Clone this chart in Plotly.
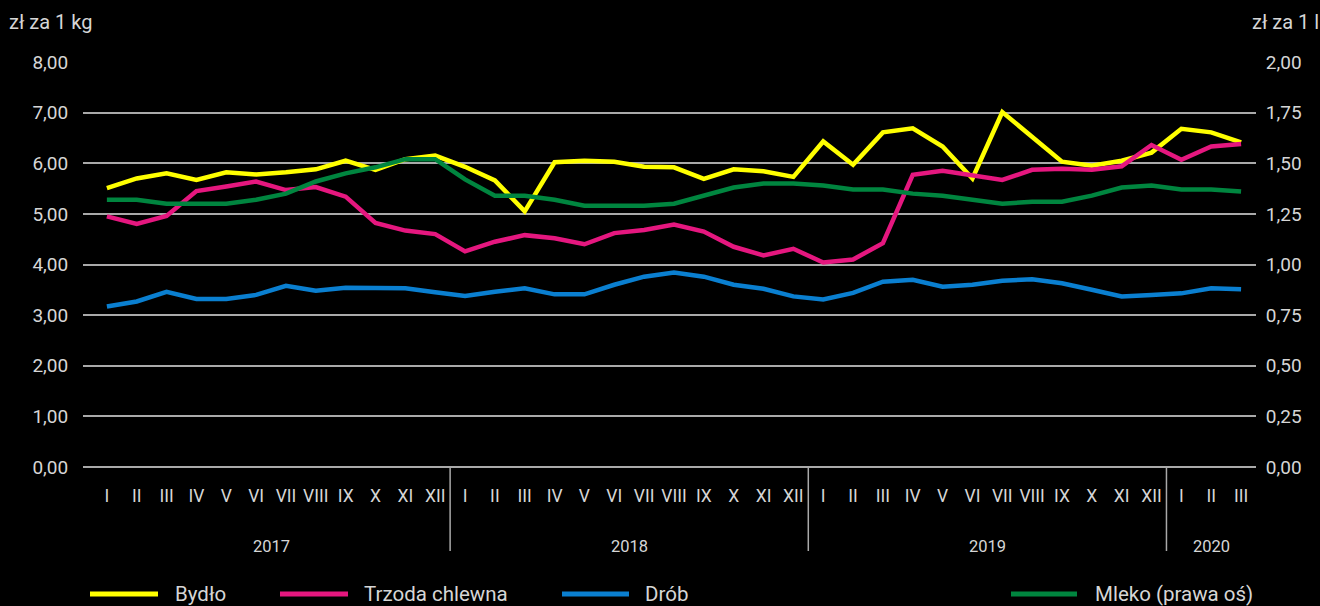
import plotly.graph_objects as go

years = ["2017", "2018", "2019", "2020"]
months_per_year = [12, 12, 12, 3]
roman = ["I", "II", "III", "IV", "V", "VI", "VII", "VIII", "IX", "X", "XI", "XII"]

bydlo = [5.51, 5.70, 5.80, 5.67, 5.82, 5.78, 5.82, 5.88, 6.05, 5.87,
         6.08, 6.15, 5.93, 5.66, 5.05, 6.02, 6.05, 6.03, 5.93, 5.92,
         5.69, 5.88, 5.84, 5.73, 6.43, 5.97, 6.61, 6.69, 6.33, 5.70,
         7.01, 6.53, 6.03, 5.95, 6.05, 6.21, 6.68, 6.61, 6.41]
trzoda = [4.95, 4.80, 4.96, 5.45, 5.54, 5.64, 5.47, 5.53, 5.34, 4.82,
          4.67, 4.60, 4.26, 4.45, 4.58, 4.52, 4.40, 4.62, 4.68, 4.79,
          4.65, 4.35, 4.18, 4.31, 4.04, 4.10, 4.42, 5.77, 5.85, 5.77,
          5.67, 5.87, 5.89, 5.87, 5.94, 6.36, 6.07, 6.33, 6.38]
drob = [3.17, 3.27, 3.46, 3.32, 3.32, 3.40, 3.58, 3.48, 3.54, 3.54,
        3.53, 3.45, 3.38, 3.46, 3.53, 3.41, 3.41, 3.60, 3.76, 3.84,
        3.76, 3.60, 3.52, 3.37, 3.31, 3.44, 3.66, 3.70, 3.56, 3.60,
        3.68, 3.71, 3.63, 3.50, 3.37, 3.40, 3.43, 3.53, 3.51]
mleko = [1.32, 1.32, 1.30, 1.30, 1.30, 1.32, 1.35, 1.41, 1.45, 1.48,
         1.52, 1.52, 1.42, 1.34, 1.34, 1.32, 1.29, 1.29, 1.29, 1.30,
         1.34, 1.38, 1.40, 1.40, 1.39, 1.37, 1.37, 1.35, 1.34, 1.32,
         1.30, 1.31, 1.31, 1.34, 1.38, 1.39, 1.37, 1.37, 1.36]

series_names = ["Bydło", "Trzoda chlewna", "Drób", "Mleko (prawa oś)"]
colors = ["#ffff00", "#e5177f", "#0a7fd0", "#00853f"]

# categories
cats, month_labels = [], []
for y, n in zip(years, months_per_year):
    for m in roman[:n]:
        cats.append(f"{m} {y}")
        month_labels.append(m)

FONT = "Roboto"
TXT = "#d6d6d6"
GRID = "#a9a9a9"

W, H = 1320, 606
L, R, T, B = 83, 1256, 62, 467  # plot area in px


def px(xp):
    return (xp - L) / (R - L)


def py(yp):
    return (B - yp) / (B - T)


fig = go.Figure()
for name, vals, col in zip(series_names[:3], [bydlo, trzoda, drob], colors[:3]):
    fig.add_trace(go.Scatter(x=cats, y=vals, mode="lines", name=name,
                             line=dict(color=col, width=4.5), showlegend=False))
fig.add_trace(go.Scatter(x=cats, y=mleko, mode="lines", name=series_names[3],
                         yaxis="y2", line=dict(color=colors[3], width=4.5),
                         showlegend=False))

shapes = []
annotations = []

# year separators and year labels
start = 0
for i, (y, n) in enumerate(zip(years, months_per_year)):
    end = start + n
    annotations.append(dict(x=(start + end - 1) / 2, y=py(546), xref="x", yref="paper",
                            text=y, showarrow=False, font=dict(family=FONT, size=16.5, color=TXT),
                            xanchor="center", yanchor="middle"))
    if i < len(years) - 1:
        shapes.append(dict(type="line", xref="x", yref="paper", x0=end - 0.5, x1=end - 0.5,
                           y0=0, y1=py(551), line=dict(color=GRID, width=1.5)))
    start = end

# axis unit labels
annotations.append(dict(x=px(7), y=py(22), xref="paper", yref="paper", text="zł za 1 kg",
                        showarrow=False, xanchor="left", yanchor="middle",
                        font=dict(family=FONT, size=20, color=TXT)))
annotations.append(dict(x=px(1250), y=py(22), xref="paper", yref="paper", text="zł za 1 l",
                        showarrow=False, xanchor="left", yanchor="middle",
                        font=dict(family=FONT, size=20, color=TXT)))

# manual legend
legend_pos = [(90, 158, 173), (280, 348, 362), (562, 629, 643), (1011, 1077, 1093)]
for name, col, (x0, x1, xt) in zip(series_names, colors, legend_pos):
    shapes.append(dict(type="line", xref="paper", yref="paper", x0=px(x0), x1=px(x1),
                       y0=py(594), y1=py(594), line=dict(color=col, width=5)))
    annotations.append(dict(x=px(xt), y=py(594), xref="paper", yref="paper", text=name,
                            showarrow=False, xanchor="left", yanchor="middle",
                            font=dict(family=FONT, size=20.5, color=TXT)))

fig.update_layout(
    width=W, height=H,
    paper_bgcolor="black", plot_bgcolor="black",
    margin=dict(l=L, r=W - R, t=T, b=H - B, pad=0),
    separators=", ",
    font=dict(family=FONT, size=16, color=TXT),
    shapes=shapes, annotations=annotations,
    xaxis=dict(type="category", categoryorder="array", categoryarray=cats,
               tickmode="array", tickvals=cats, ticktext=month_labels,
               range=[-0.8, len(cats) - 0.5], showgrid=False, zeroline=False,
               showline=False, ticks="outside", ticklen=13,
               tickcolor="rgba(0,0,0,0)", tickfont=dict(family=FONT, size=17.5, color=TXT)),
    yaxis=dict(range=[0, 8], tickvals=[0, 1, 2, 3, 4, 5, 6, 7, 8], tickformat=".2f",
               showgrid=True, gridcolor=GRID, gridwidth=2, zeroline=True,
               zerolinecolor=GRID, zerolinewidth=2, ticks="outside", ticklen=10,
               tickcolor="rgba(0,0,0,0)", tickfont=dict(family=FONT, size=19, color=TXT)),
    yaxis2=dict(range=[0, 2], overlaying="y", side="right",
                tickvals=[0, 0.25, 0.5, 0.75, 1, 1.25, 1.5, 1.75, 2], tickformat=".2f",
                showgrid=False, zeroline=False, ticks="outside", ticklen=5,
                tickcolor="rgba(0,0,0,0)", tickfont=dict(family=FONT, size=19, color=TXT)),
    showlegend=False,
)

fig.write_html(
    "out.html",
    config={"displayModeBar": False},
    post_script="document.body.style.margin='0';document.body.style.background='black';",
)
